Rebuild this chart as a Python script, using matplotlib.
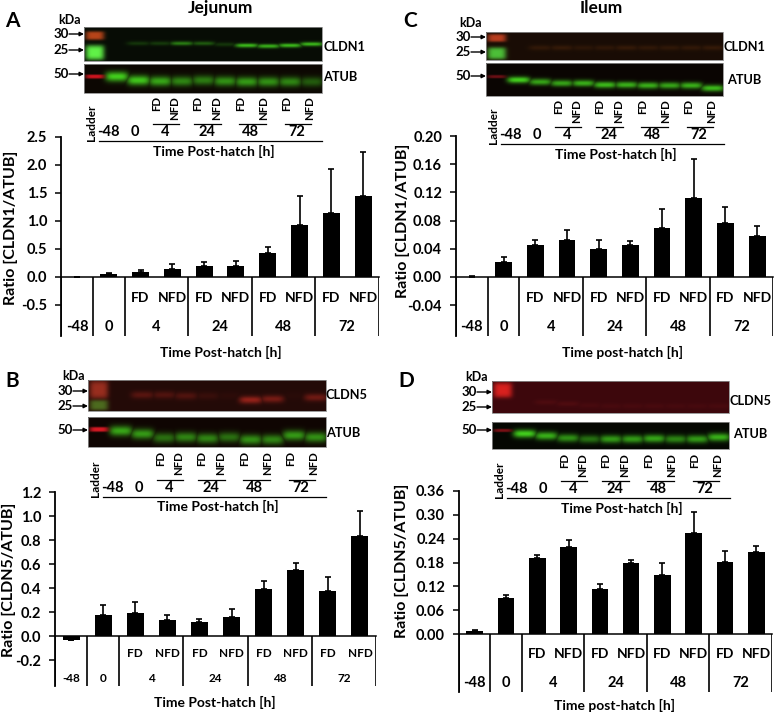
# plot.py - four-panel blot + bar figure (jejunum / ileum)
import numpy as np
import matplotlib
matplotlib.use("Agg")
import matplotlib.pyplot as plt

plt.rcParams["font.family"] = ["Lato", "DejaVu Sans"]
plt.rcParams["font.weight"] = "bold"

W, H = 774, 713

# Chart data ----------------------------------------------------------------
sub_labels = ["", "", "FD", "NFD", "FD", "NFD", "FD", "NFD", "FD", "NFD"]
group_labels = ["-48", "0", "4", "24", "48", "72"]
group_edges = [-0.5, 0.5, 1.5, 3.5, 5.5, 7.5, 9.5]

a_vals = [0.0, 0.05, 0.09, 0.15, 0.19, 0.20, 0.43, 0.92, 1.15, 1.45]
a_tops = [0.0, 0.07, 0.12, 0.23, 0.27, 0.29, 0.54, 1.44, 1.93, 2.24]
a_ticks = [-0.5, 0.0, 0.5, 1.0, 1.5, 2.0, 2.5]

c_vals = [0.0005, 0.021, 0.046, 0.052, 0.040, 0.046, 0.069, 0.112, 0.076, 0.058]
c_tops = [0.002, 0.029, 0.053, 0.066, 0.052, 0.051, 0.097, 0.167, 0.100, 0.072]
c_ticks = [-0.04, 0.0, 0.04, 0.08, 0.12, 0.16, 0.20]

b_vals = [-0.03, 0.175, 0.19, 0.135, 0.115, 0.155, 0.395, 0.55, 0.375, 0.83]
b_tops = [-0.03, 0.26, 0.285, 0.175, 0.145, 0.225, 0.455, 0.605, 0.495, 1.04]
b_ticks = [-0.2, 0.0, 0.2, 0.4, 0.6, 0.8, 1.0, 1.2]

d_vals = [0.007, 0.09, 0.192, 0.22, 0.114, 0.18, 0.148, 0.255, 0.182, 0.207]
d_tops = [0.009, 0.098, 0.20, 0.236, 0.127, 0.187, 0.178, 0.308, 0.208, 0.222]
d_ticks = [0.0, 0.06, 0.12, 0.18, 0.24, 0.30, 0.36]

# Blot band strengths per lane (-48 .. 72 NFD) and band height in the strip
a_top_bands = [0.0, 0.2, 0.22, 0.55, 0.38, 0.2, 0.85, 0.8, 0.85, 0.85]
a_top_y = [0.5, 0.47, 0.47, 0.47, 0.47, 0.5, 0.53, 0.55, 0.53, 0.49]
a_tub_bands = [0.95, 0.9, 0.75, 0.6, 0.55, 0.65, 0.7, 0.65, 0.6, 0.4]
a_tub_y = [0.42, 0.55, 0.58, 0.58, 0.55, 0.58, 0.6, 0.6, 0.6, 0.6]

c_top_bands = [0.0, 0.18, 0.2, 0.14, 0.16, 0.2, 0.17, 0.17, 0.18, 0.2]
c_top_y = [0.55] * 10
c_tub_bands = [0.95, 0.75, 0.75, 0.8, 0.85, 0.8, 0.8, 0.75, 0.8, 0.85]
c_tub_y = [0.5, 0.56, 0.6, 0.6, 0.65, 0.65, 0.67, 0.67, 0.67, 0.75]

b_top_bands = [0.0, 0.35, 0.3, 0.3, 0.14, 0.06, 0.75, 0.55, 0.04, 0.5]
b_top_y = [0.5, 0.47, 0.47, 0.5, 0.5, 0.5, 0.63, 0.6, 0.5, 0.55]
b_tub_bands = [0.75, 0.7, 0.5, 0.6, 0.6, 0.5, 0.65, 0.6, 0.7, 0.65]
b_tub_y = [0.45, 0.55, 0.68, 0.66, 0.7, 0.66, 0.74, 0.74, 0.6, 0.66]

d_top_bands = [0.0, 0.2, 0.22, 0.14, 0.14, 0.14, 0.14, 0.12, 0.12, 0.14]
d_top_y = [0.65, 0.65, 0.7, 0.75, 0.77, 0.77, 0.77, 0.77, 0.77, 0.77]
d_tub_bands = [0.95, 0.8, 0.65, 0.5, 0.7, 0.7, 0.75, 0.6, 0.7, 0.8]
d_tub_y = [0.42, 0.5, 0.58, 0.62, 0.62, 0.62, 0.6, 0.62, 0.62, 0.55]

GREEN = np.array([0.27, 0.85, 0.12])
RED = np.array([0.72, 0.16, 0.12])
ORANGE = np.array([0.62, 0.30, 0.08])


def make_blot(bg, color, bands, ys, thick, blobs):
    """Small RGB picture of one blot strip: 11 lanes, first one is the ladder."""
    w, h = 238, 40
    bg = np.array(bg)
    img = np.ones((h, w, 3)) * bg
    yy, xx = np.mgrid[0:h, 0:w]
    lane = w / 11
    for i, (v, y) in enumerate(zip(bands, ys)):
        cx = (i + 1.5) * lane
        g = np.exp(-((xx - cx) / (lane * 0.54)) ** 4) * np.exp(-((yy - y * h) / (thick * h)) ** 2)
        img = np.maximum(img, bg + v * g[..., None] * (color - bg))
    for by, bs, bc in blobs:
        g = np.exp(-((xx - lane * 0.48) / (lane * 0.44)) ** 4) * np.exp(-((yy - by * h) / (bs * h)) ** 4)
        img = img * (1 - g[..., None]) + g[..., None] * np.array(bc)
    return np.clip(img, 0, 1)


fig = plt.figure(figsize=(W / 100, H / 100), dpi=100)
bg = fig.add_axes([0, 0, 1, 1])
bg.set_xlim(0, W)
bg.set_ylim(H, 0)
bg.axis("off")


def put_blot(box, *args):
    x0, x1, y0, y1 = box
    bg.imshow(make_blot(*args), extent=(x0, x1, y1, y0), aspect="auto", interpolation="bilinear")
    bg.add_patch(plt.Rectangle((x0, y0), x1 - x0, y1 - y0, fill=False, ec="#8a8a8a", lw=0.6))


def blot_labels(left, bottom, kda, marks, right, shift_y=0):
    """Ladder marks and the lane annotations under one blot pair."""
    bg.text(kda[0], kda[1], "kDa", ha="center", va="center", fontsize=9)
    for label, y in marks:
        bg.text(left - 15, y, label, ha="right", va="center", fontsize=9.5)
        bg.annotate("", xy=(left, y), xytext=(left - 15, y),
                    arrowprops=dict(arrowstyle="-|>", lw=1.0, color="black", mutation_scale=6, shrinkA=0, shrinkB=0))
    for label, x, y in right:
        bg.text(x, y, label, ha="left", va="center", fontsize=9.2)

    base = bottom + shift_y
    bg.text(left + 7, base + 30, "Ladder", rotation=90, ha="center", va="center", fontsize=8.5)
    for label, dx in zip(["-48", "0", "4", "24", "48", "72"], [24, 51, 81, 123, 166, 213]):
        bg.text(left + dx, base + 39, label, ha="center", va="center", fontsize=10.5)
    lane_dx = [73, 91, 114, 133, 157, 180, 203, 226]
    for i, dx in enumerate(lane_dx):
        bg.text(left + dx, base + 3, "FD" if i % 2 == 0 else "NFD", rotation=90,
                ha="center", va="top", fontsize=8.2)
    for x0, x1 in [(69, 95), (110, 137), (155, 182), (201, 227)]:
        bg.plot([left + x0, left + x1], [base + 31, base + 31], color="black", lw=0.9)
    bg.plot([left + 15, left + 238], [base + 48, base + 48], color="black", lw=0.9)
    bg.text(left + 130, base + 58, "Time Post-hatch [h]", ha="center", va="center", fontsize=10)


def bar_panel(box, p_top, p_zero, top_val, vals, tops, ticks, fmt, ylabel, yl_pos, xlabel, xl_pos,
              sub_size=10, group_size=10.5, tick_size=10.5):
    left, right, bottom = box
    ax = fig.add_axes([left / W, 1 - bottom / H, (right - left) / W, (bottom - p_top) / H])
    ax.patch.set_alpha(0)
    per_px = top_val / (p_zero - p_top)
    ymin = -(bottom - p_zero) * per_px
    x = np.arange(10)
    vals = np.array(vals)
    tops = np.array(tops)
    ax.bar(x, vals, width=0.53, color="black", zorder=2)
    ax.errorbar(x, vals, yerr=[np.zeros(10), tops - vals], fmt="none", ecolor="black",
                elinewidth=1.2, capsize=2.2, capthick=1.2, zorder=3)
    ax.set_xlim(-0.5, 9.5)
    ax.set_ylim(ymin, top_val)
    ax.spines[["top", "right"]].set_visible(False)
    ax.spines["left"].set_linewidth(1.3)
    ax.spines["bottom"].set_linewidth(1.1)
    ax.spines["bottom"].set_position(("data", 0))
    ax.set_xticks([])
    ax.set_yticks(ticks)
    ax.set_yticklabels([fmt.format(t) for t in ticks], fontsize=tick_size, fontweight="bold")
    ax.tick_params(axis="y", length=4, width=1.1, pad=6)
    ax.vlines(group_edges, ymin, 0, color="black", lw=1.2, zorder=2)
    for i, label in enumerate(sub_labels):
        ax.text(i, ymin * 0.35, label, ha="center", va="center", fontsize=sub_size)
    for i, label in enumerate(group_labels):
        ax.text((group_edges[i] + group_edges[i + 1]) / 2, ymin * 0.85, label,
                ha="center", va="center", fontsize=group_size)
    bg.text(yl_pos[0], yl_pos[1], ylabel, rotation=90, ha="center", va="center", fontsize=11.5)
    bg.text(xl_pos[0], xl_pos[1], xlabel, ha="center", va="center", fontsize=10)
    return ax


# Panel A -------------------------------------------------------------------
put_blot((84, 322, 27, 61), (0.03, 0.05, 0.02), GREEN, a_top_bands, a_top_y, 0.06,
         [(0.24, 0.13, (0.72, 0.27, 0.10)), (0.74, 0.22, (0.38, 0.95, 0.28))])
put_blot((84, 322, 64, 93), (0.05, 0.03, 0.01), GREEN, a_tub_bands, a_tub_y, 0.17,
         [(0.42, 0.07, (0.80, 0.08, 0.12))])
blot_labels(84, 93, (70, 20), [("30", 34), ("25", 50), ("50", 74)],
            [("CLDN1", 323, 47), ("ATUB", 323, 77)])
bar_panel((61, 379, 336), 137, 277, 2.5, a_vals, a_tops, a_ticks, "{:.1f}", "Ratio [CLDN1/ATUB]", (11, 228),
          "Time Post-hatch [h]", (221, 352))

# Panel C -------------------------------------------------------------------
put_blot((486, 723, 32, 60), (0.10, 0.05, 0.02), ORANGE, c_top_bands, c_top_y, 0.09,
         [(0.2, 0.14, (0.72, 0.24, 0.12)), (0.75, 0.22, (0.30, 0.75, 0.22))])
put_blot((486, 723, 63, 96), (0.04, 0.02, 0.01), GREEN, c_tub_bands, c_tub_y, 0.1,
         [(0.4, 0.05, (0.42, 0.06, 0.08))])
blot_labels(486, 96, (471, 23), [("30", 37), ("25", 52), ("50", 76)],
            [("CLDN1", 723, 47), ("ATUB", 727, 80)])
bar_panel((456, 773, 336), 136, 277, 0.20, c_vals, c_tops, c_ticks, "{:.2f}", "Ratio [CLDN1/ATUB]", (403, 221),
          "Time post-hatch [h]", (623, 352))

# Panel B -------------------------------------------------------------------
put_blot((88, 326, 380, 411), (0.14, 0.04, 0.03), RED, b_top_bands, b_top_y, 0.12,
         [(0.3, 0.3, (0.60, 0.18, 0.12)), (0.8, 0.17, (0.30, 0.42, 0.12))])
put_blot((88, 326, 417, 447), (0.06, 0.02, 0.01), GREEN, b_tub_bands, b_tub_y, 0.17,
         [(0.4, 0.08, (0.85, 0.10, 0.14))])
blot_labels(88, 447, (74, 376), [("30", 391), ("25", 406), ("50", 430)],
            [("CLDN5", 326, 395), ("ATUB", 326, 433)], shift_y=1.5)
bar_panel((55, 376, 686), 492, 636, 1.2, b_vals, b_tops, b_ticks, "{:.1f}", "Ratio [CLDN5/ATUB]", (9, 580),
          "Time Post-hatch [h]", (215, 702), sub_size=8.5, group_size=8.5)

# Panel D -------------------------------------------------------------------
put_blot((492, 729, 381, 413), (0.24, 0.03, 0.05), np.array([0.55, 0.10, 0.10]), d_top_bands, d_top_y, 0.08,
         [(0.27, 0.24, (0.85, 0.13, 0.12))])
put_blot((492, 729, 422, 449), (0.02, 0.03, 0.01), GREEN, d_tub_bands, d_tub_y, 0.15,
         [(0.3, 0.06, (0.48, 0.06, 0.08))])
blot_labels(492, 449, (477, 377), [("30", 392), ("25", 407), ("50", 430)],
            [("CLDN5", 729, 401), ("ATUB", 733, 434)], shift_y=1)
bar_panel((459, 772, 692), 491, 634, 0.36, d_vals, d_tops, d_ticks, "{:.2f}", "Ratio [CLDN5/ATUB]", (402, 561),
          "Time post-hatch [h]", (615, 705))

# Titles and panel letters ---------------------------------------------------
bg.text(220, 8, "Jejunum", ha="center", va="center", fontsize=12.5)
bg.text(601, 8, "Ileum", ha="center", va="center", fontsize=12.5)
for letter, x, y in [("A", 12, 21), ("C", 410, 21), ("B", 12, 381), ("D", 406, 381)]:
    bg.text(x, y, letter, ha="center", va="center", fontsize=15)

bg.set_xlim(0, W)
bg.set_ylim(H, 0)
fig.savefig("out.png", dpi=100)
